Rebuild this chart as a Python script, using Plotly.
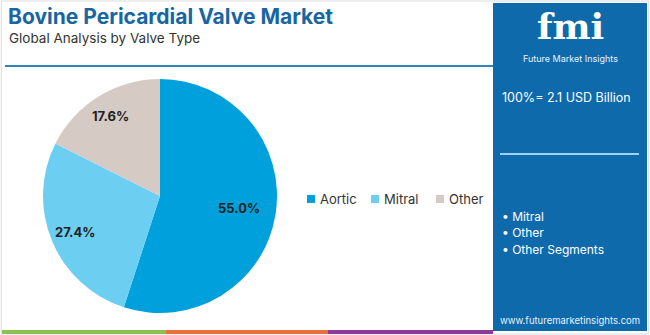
import numpy as np
import plotly.graph_objects as go

categories = ["Aortic", "Mitral", "Other"]
shares = [55.0, 27.4, 17.6]
colors = ["#00a0dc", "#6ccff2", "#d6cbc4"]
bullets = ["Mitral", "Other", "Other Segments"]
title = "Bovine Pericardial Valve Market"
subtitle = "Global Analysis by Valve Type"
total_label = "100%= 2.1 USD Billion"

W, H = 650, 335
cx, cy, r = 160, 196, 117
label_dist = [0.68, 0.79, 0.80]   # style: radial distance of each value label
legend_x = [307, 371, 436]         # style: left edge of each legend entry (px)
legend_y = 199

fig = go.Figure()
fig.add_trace(go.Pie(
    labels=categories, values=shares, sort=False, direction="clockwise", rotation=0,
    marker=dict(colors=colors, line=dict(width=0)),
    textinfo="none", showlegend=False,
    domain=dict(x=[(cx - r) / W, (cx + r) / W], y=[(H - cy - r) / H, (H - cy + r) / H]),
    hoverinfo="label+percent",
))

shapes = [
    dict(type="rect", xref="paper", yref="paper", x0=0.002, x1=0.998, y0=0.003, y1=0.997,
         line=dict(color="#dddddd", width=1), fillcolor="rgba(0,0,0,0)", layer="below"),
    dict(type="rect", xref="paper", yref="paper", x0=493 / W, x1=647 / W, y0=1 - 331 / H, y1=1 - 3 / H,
         line=dict(width=0), fillcolor="#0f6aac", layer="below"),
    dict(type="line", xref="paper", yref="paper", x0=5 / W, x1=493 / W, y0=1 - 66 / H, y1=1 - 66 / H,
         line=dict(color="#2f86bd", width=2)),
    dict(type="line", xref="paper", yref="paper", x0=500 / W, x1=639 / W, y0=1 - 154 / H, y1=1 - 154 / H,
         line=dict(color="#9fd0ef", width=2)),
]
for x0, x1, c in [(2, 166, "#8cc152"), (166, 328, "#e8703a"), (328, 493, "#8e3a9c")]:
    shapes.append(dict(type="rect", xref="paper", yref="paper", x0=x0 / W, x1=x1 / W,
                       y0=1 - 334 / H, y1=1 - 330 / H, line=dict(width=0), fillcolor=c))

def ann(text, x, y, size, color, bold=False, xanchor="left", family="Inter, Roboto, sans-serif"):
    return dict(text=f"<b>{text}</b>" if bold else text, x=x / W, y=1 - y / H, xref="paper", yref="paper",
                xanchor=xanchor, yanchor="middle", showarrow=False,
                font=dict(family=family, size=size, color=color))

annotations = [
    ann(title, 6, 17, 21, "#1766a3", bold=True),
    ann(subtitle, 7, 38, 13.5, "#333333"),
    ann("fmi", 570, 26, 36, "#ffffff", bold=True, xanchor="center", family="DejaVu Serif, serif"),
    ann("Future Market Insights", 570, 58, 9, "#e6f2fb", xanchor="center"),
    ann(total_label, 500, 97, 12.5, "#ffffff"),
    ann("www.futuremarketinsights.com", 570, 320, 9.5, "#e6f2fb", xanchor="center"),
]
for i, b in enumerate(bullets):
    annotations.append(ann("• " + b, 500, 216 + i * 16.5, 12, "#ffffff"))

# value labels placed at the mid-angle of each slice
vals = np.array(shares)
cum = np.cumsum(vals) - vals / 2
theta = cum / vals.sum() * 2 * np.pi
for v, t, d in zip(vals, theta, label_dist):
    lx = cx + np.sin(t) * r * d
    ly = cy - np.cos(t) * r * d
    annotations.append(ann(f"{v:.1f}%", lx, ly, 13, "#222222", bold=True, xanchor="center"))

# legend (compact horizontal, like the reference)
for name, col, lx in zip(categories, colors, legend_x):
    shapes.append(dict(type="rect", xref="paper", yref="paper", x0=lx / W, x1=(lx + 8) / W,
                       y0=1 - (legend_y + 4) / H, y1=1 - (legend_y - 4) / H,
                       line=dict(width=0), fillcolor=col))
    annotations.append(ann(name, lx + 11, legend_y, 13, "#333333"))

fig.update_layout(
    width=W, height=H, margin=dict(l=0, r=0, t=0, b=0),
    paper_bgcolor="#ffffff", plot_bgcolor="#ffffff",
    shapes=shapes, annotations=annotations,
    showlegend=False,
)

fig.write_html("out.html")
